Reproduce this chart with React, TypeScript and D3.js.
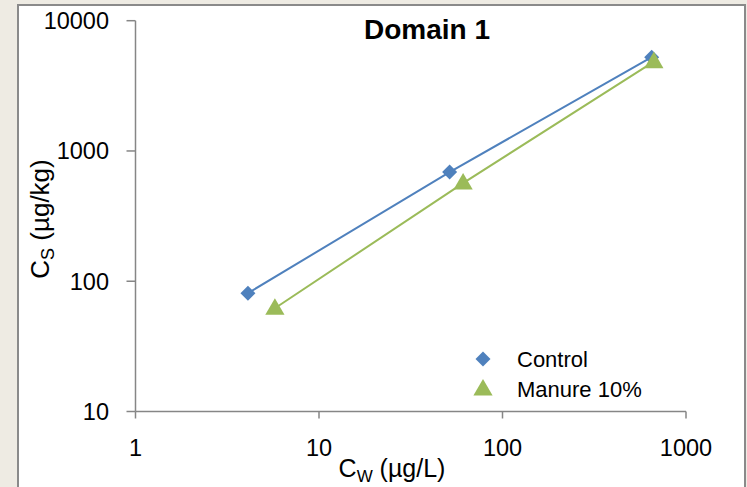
import React from "react";
import * as d3 from "d3";

const xTicks = [1, 10, 100, 1000];
const yTicks = [10, 100, 1000, 10000];

const controlCw = [4.1, 51.5, 650];
const controlCs = [81, 688, 5250];
const manureCw = [5.75, 61, 668];
const manureCs = [62, 567, 4850];

const seriesNames = ["Control", "Manure 10%"];
const seriesColors = ["#4F81BD", "#9BBB59"];

const W = 747;
const H = 487;

export default function App() {
  const x = d3.scaleLog().domain([1, 1000]).range([135.5, 686]);
  const y = d3.scaleLog().domain([10, 10000]).range([411.5, 20.7]);

  const line = d3
    .line<[number, number]>()
    .x((d) => x(d[0]))
    .y((d) => y(d[1]));

  const control: [number, number][] = controlCw.map((v, i) => [v, controlCs[i]]);
  const manure: [number, number][] = manureCw.map((v, i) => [v, manureCs[i]]);

  const r = 7.5;
  const diamond = `M0,${-r}L${r},0L0,${r}L${-r},0Z`;
  const triangle = d3.symbol().type(d3.symbolTriangle).size(160)() as string;

  const font = "'Liberation Sans', Arial, sans-serif";
  const axisColor = "#868686";

  return (
    <svg
      width={W}
      height={H}
      style={{ position: "absolute", left: 0, top: 0 }}
      fontFamily={font}
    >
      <rect x={0} y={0} width={W} height={H} fill="#EEEBE3" />
      <rect x={18} y={5} width={727} height={H} fill="#FFFFFF" stroke="#8A8A8A" strokeWidth={2} />

      {/* axes */}
      <line x1={x(1)} x2={x(1)} y1={y(10000)} y2={y(10)} stroke={axisColor} strokeWidth={1.5} />
      <line x1={x(1)} x2={x(1000)} y1={y(10)} y2={y(10)} stroke={axisColor} strokeWidth={1.5} />
      {yTicks.map((t) => (
        <g key={"y" + t}>
          <line x1={x(1) - 9} x2={x(1)} y1={y(t)} y2={y(t)} stroke={axisColor} strokeWidth={1.5} />
          <text x={109} y={y(t)} dy="0.36em" textAnchor="end" fontSize={23.5} fill="#000">
            {t}
          </text>
        </g>
      ))}
      {xTicks.map((t) => (
        <g key={"x" + t}>
          <line x1={x(t)} x2={x(t)} y1={y(10)} y2={y(10) + 7} stroke={axisColor} strokeWidth={1.5} />
          <text x={x(t)} y={456} textAnchor="middle" fontSize={23.5} fill="#000">
            {t}
          </text>
        </g>
      ))}

      {/* title */}
      <text x={427} y={39} textAnchor="middle" fontSize={28} fontWeight="bold" fill="#000">
        Domain 1
      </text>

      {/* axis titles */}
      <text x={392} y={477} textAnchor="middle" fontSize={25} fill="#000">
        C<tspan fontSize={17} dy={5}>W</tspan>
        <tspan dy={-5}> (µg/L)</tspan>
      </text>
      <text
        transform={`translate(49,219) rotate(-90)`}
        textAnchor="middle"
        fontSize={26}
        fill="#000"
      >
        C<tspan fontSize={18} dy={5}>S</tspan>
        <tspan dy={-5}> (µg/kg)</tspan>
      </text>

      {/* lines */}
      <path d={line(control) || ""} fill="none" stroke={seriesColors[0]} strokeWidth={2} />
      <path d={line(manure) || ""} fill="none" stroke={seriesColors[1]} strokeWidth={2} />

      {/* markers */}
      {control.map((d, i) => (
        <path key={"c" + i} d={diamond} transform={`translate(${x(d[0])},${y(d[1])})`} fill={seriesColors[0]} />
      ))}
      {manure.map((d, i) => (
        <path key={"m" + i} d={triangle} transform={`translate(${x(d[0])},${y(d[1]) + 1})`} fill={seriesColors[1]} />
      ))}

      {/* legend */}
      <path d={diamond} transform="translate(483,359)" fill={seriesColors[0]} />
      <text x={517} y={367} fontSize={22} fill="#000">
        {seriesNames[0]}
      </text>
      <path d={triangle} transform="translate(483,390)" fill={seriesColors[1]} />
      <text x={517} y={397} fontSize={22} fill="#000">
        {seriesNames[1]}
      </text>
    </svg>
  );
}
